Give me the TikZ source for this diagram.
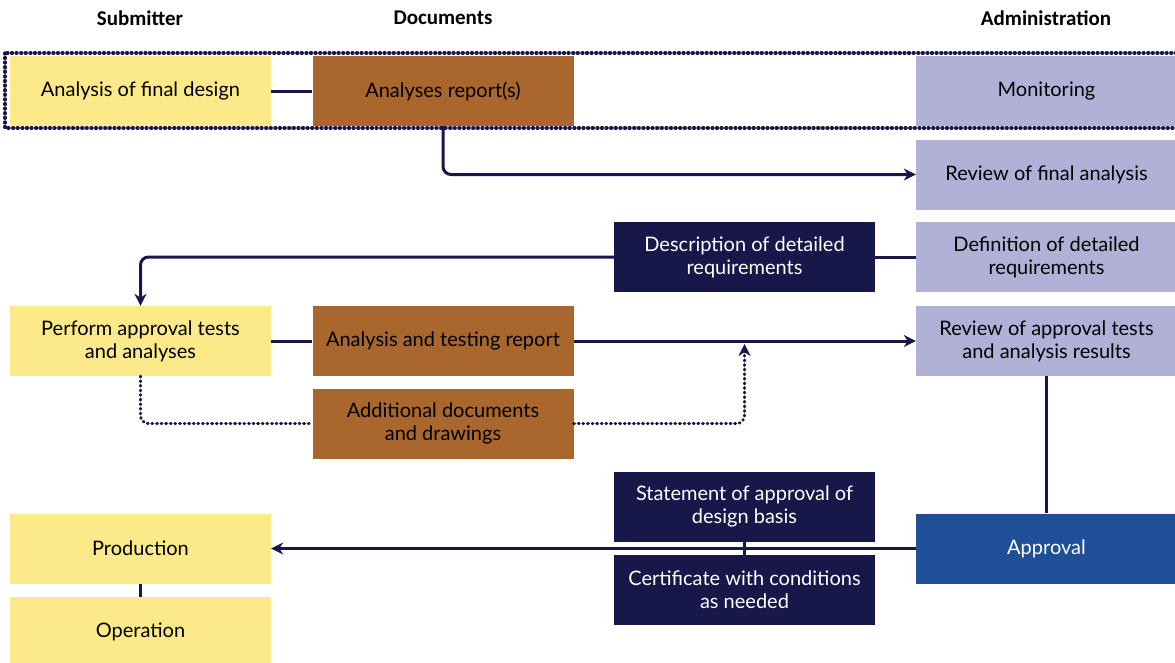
\documentclass[tikz,border=0pt]{standalone}
\usepackage{fontspec}
\setmainfont{Lato}
\newfontfamily\headfont{Carlito}
\usetikzlibrary{arrows.meta}
\definecolor{subyellow}{HTML}{FBE98A}
\definecolor{docbrown}{HTML}{A9662D}
\definecolor{navy}{HTML}{17174A}
\definecolor{lavender}{HTML}{B1B1D8}
\definecolor{approveblue}{HTML}{1F4F98}
\begin{document}
\begin{tikzpicture}[x=1pt, y=-1pt,
    box/.style={minimum width=261pt, minimum height=70pt, inner sep=0pt, align=center, font=\fontsize{20}{23}\selectfont},
    sub/.style={box, fill=subyellow},
    doc/.style={box, fill=docbrown},
    note/.style={box, fill=navy, text=white},
    adm/.style={box, fill=lavender},
    head/.style={font=\headfont\bfseries\fontsize{21}{24}\selectfont},
    link/.style={draw=navy, line width=3pt, rounded corners=8pt},
    arr/.style={link, -{Stealth[length=12pt, width=12pt]}},
    dots/.style={draw=navy, line width=3.5pt, dash pattern=on 0.8pt off 3.8pt, line cap=round}]
    \useasboundingbox[fill=white] (0,0) rectangle (1175,662);
    \node[head] (hsub) at (140,18) {Submitter};
    \node[head] (hdoc) at (443,18) {Documents};
    \node[head] (hadm) at (1046,18) {Administration};
    \node[sub] (design) at (140.5,91) {Analysis of final design};
    \node[doc] (report1) at (443,91) {Analyses report(s)};
    \node[adm] (monitor) at (1046.5,91) {Monitoring};
    \node[adm] (review1) at (1046.5,174.5) {Review of final analysis};
    \node[note] (describe) at (744.5,257) {Description of detailed\\requirements};
    \node[adm] (define) at (1046.5,257) {Definition of detailed\\requirements};
    \node[sub] (perform) at (140.5,341) {Perform approval tests\\and analyses};
    \node[doc] (report2) at (443,341) {Analysis and testing report};
    \node[adm] (review2) at (1046.5,341) {Review of approval tests\\and analysis results};
    \node[doc] (extra) at (443,423.5) {Additional documents\\and drawings};
    \node[note] (statement) at (744.5,506.5) {Statement of approval of\\design basis};
    \node[sub] (production) at (140.5,548.5) {Production};
    \node[box, fill=approveblue, text=white] (approve) at (1046.5,548.5) {Approval};
    \node[note] (certificate) at (744.5,590) {Certificate with conditions\\as needed};
    \node[sub] (operation) at (140.5,632) {Operation};
    \coordinate (join) at (744.5,344);
    \draw[dots] (5,53) rectangle (1178,128);
    \draw[link] (design) -- (report1);
    \draw[arr] (report1.south) |- (review1.west);
    \draw[link] (define) -- (describe);
    \draw[arr] (describe.west) -| (perform.north);
    \draw[link] (perform) -- (report2);
    \draw[arr] (report2) -- (review2);
    \draw[dots, line width=3pt, rounded corners=8pt] (perform.south) |- (extra.west);
    \draw[dots, line width=3pt, rounded corners=8pt, -{Stealth[length=12pt, width=12pt]}] (extra.east) -| (join);
    \draw[link] (review2) -- (approve);
    \draw[arr] (approve) -- (production);
    \draw[link] (statement) -- (certificate);
    \draw[link] (production) -- (operation);
\end{tikzpicture}
\end{document}
